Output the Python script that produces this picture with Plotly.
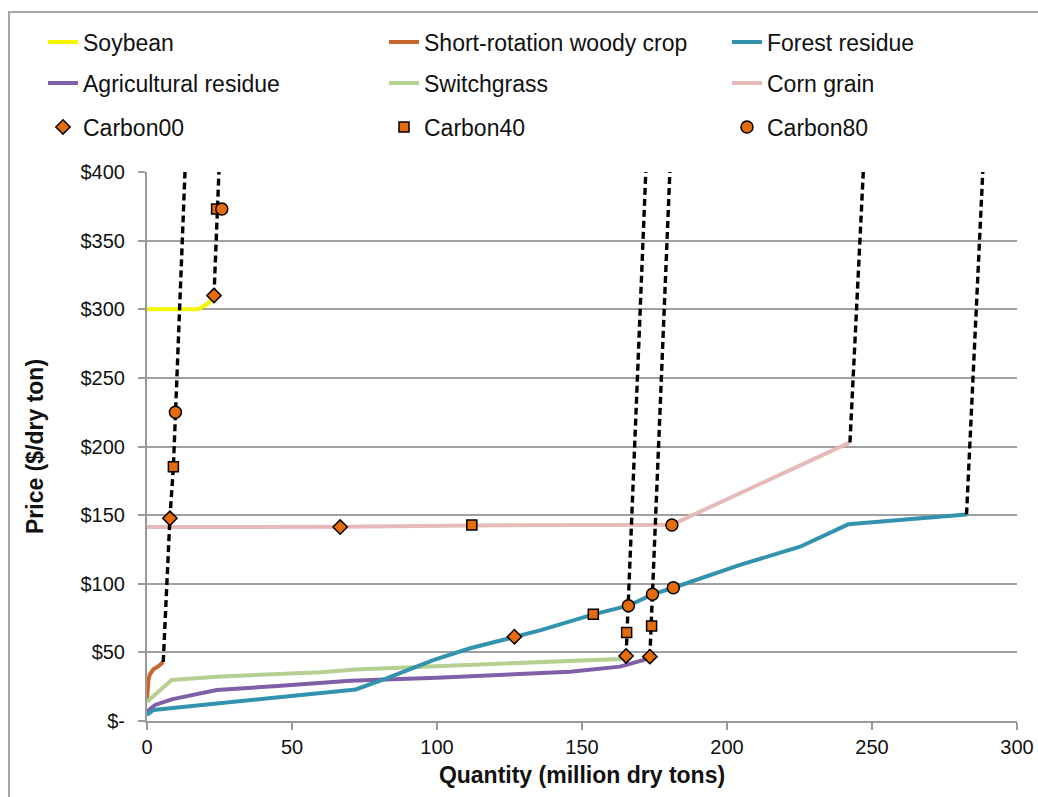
import plotly.graph_objects as go

# ---- supply curves (quantity in million dry tons, price in $/dry ton) ----
soy_x = [0, 17.7, 21, 23.1]
soy_y = [300, 300, 304, 310]

srwc_x = [0, 0.5, 1.0, 2.2, 4.0, 5.6]
srwc_y = [16, 30, 34, 37.7, 40, 43]

forest_x = [0, 2.2, 30, 60, 72, 82.6, 98.7, 111.4, 126.7, 135.5, 145.9, 153.9,
            166, 174.3, 181.5, 204.5, 225.2, 241.8, 282.6]
forest_y = [4.4, 8, 14, 20, 23, 31, 44.4, 53, 61.4, 66, 72.6, 77.7,
            84, 92.3, 97.1, 113.7, 127, 143.3, 150.5]

agres_x = [0, 2.8, 8.5, 24, 45, 70, 100, 135.5, 145.9, 163.1, 171.1, 173.4]
agres_y = [6.8, 11.7, 15.8, 22.6, 25.5, 29.4, 31.5, 35.2, 35.9, 39.6, 44.4, 46.9]

switch_x = [0, 8.5, 24, 60, 72, 146, 163, 165.2]
switch_y = [14, 29.9, 32.3, 35.5, 37.6, 43.2, 45.2, 47.0]

corn_x = [0, 66.6, 112, 181, 242.4]
corn_y = [141.3, 141.5, 142.5, 143, 203]

# ---- vertical extensions beyond each curve ----
ext_srwc_x = [5.6, 7.9, 9.1, 9.8, 13.1]
ext_srwc_y = [43, 147.7, 185.3, 225, 400]
ext_soy_x = [23.1, 24.8]
ext_soy_y = [310, 400]
ext_switch_x = [165.2, 172.0]
ext_switch_y = [47.0, 400]
ext_agres_x = [173.4, 180.3]
ext_agres_y = [46.9, 400]
ext_corn_x = [242.4, 247.0]
ext_corn_y = [203, 400]
ext_forest_x = [282.6, 288.2]
ext_forest_y = [150.5, 400]

# ---- carbon scenario equilibrium points ----
c00_x = [7.9, 23.1, 66.6, 126.7, 165.2, 173.4]
c00_y = [147.7, 310, 141.3, 61.4, 47.4, 46.9]
c40_x = [9.1, 24.0, 112, 153.9, 165.4, 174.0]
c40_y = [185.3, 373, 142.8, 77.7, 64.4, 69.2]
c80_x = [9.8, 25.8, 181, 166, 174.3, 181.5]
c80_y = [225, 373, 142.8, 84, 92.3, 97.1]

y_ticks = [0, 50, 100, 150, 200, 250, 300, 350, 400]
y_tick_text = ["$-", "$50", "$100", "$150", "$200", "$250", "$300", "$350", "$400"]
x_ticks = [0, 50, 100, 150, 200, 250, 300]

FONT = "Liberation Sans, Arial, sans-serif"
ORANGE = "#E46C0A"
LW = 4
W, H = 1038, 797

# legend slots: three columns, three rows (container pixel positions)
col_px = [43, 384, 727]
row_px = [42, 83, 127]

fig = go.Figure()

curves = [
    ("Soybean", soy_x, soy_y, "#F5F500", 0, 0),
    ("Short-rotation woody crop", srwc_x, srwc_y, "#C8662E", 0, 1),
    ("Agricultural residue", agres_x, agres_y, "#7F5FA8", 1, 0),
    ("Switchgrass", switch_x, switch_y, "#B5D090", 1, 1),
    ("Forest residue", forest_x, forest_y, "#3392AE", 0, 2),
    ("Corn grain", corn_x, corn_y, "#E6BAB9", 1, 2),
]
points = [
    ("Carbon00", c00_x, c00_y, "diamond", 11, 2, 0),
    ("Carbon40", c40_x, c40_y, "square", 10, 2, 1),
    ("Carbon80", c80_x, c80_y, "circle", 12, 2, 2),
]

legends = {}


def legend_id(row, col):
    idx = row * 3 + col + 1
    key = "legend" if idx == 1 else f"legend{idx}"
    legends[key] = dict(
        orientation="h", xref="container", yref="container",
        xanchor="left", yanchor="middle",
        x=col_px[col] / W, y=(H - row_px[row]) / H,
        font=dict(family=FONT, size=23, color="#111"),
        bgcolor="rgba(0,0,0,0)", borderwidth=0,
    )
    return key


for name, xs, ys, col, r, c in curves:
    fig.add_trace(go.Scatter(
        x=xs, y=ys, mode="lines", name=name,
        line=dict(color=col, width=LW),
        legend=legend_id(r, c),
    ))

extensions = [
    (ext_srwc_x, ext_srwc_y), (ext_soy_x, ext_soy_y),
    (ext_switch_x, ext_switch_y), (ext_agres_x, ext_agres_y),
    (ext_corn_x, ext_corn_y), (ext_forest_x, ext_forest_y),
]
for xs, ys in extensions:
    fig.add_trace(go.Scatter(
        x=xs, y=ys, mode="lines", showlegend=False, hoverinfo="skip",
        line=dict(color="black", width=3.4, dash="7px,4px"),
    ))

for name, xs, ys, sym, size, r, c in points:
    fig.add_trace(go.Scatter(
        x=xs, y=ys, mode="markers", name=name,
        marker=dict(symbol=sym, size=size, color=ORANGE,
                    line=dict(color="black", width=1.5)),
        legend=legend_id(r, c),
    ))

fig.update_layout(
    width=W, height=H,
    margin=dict(l=147, r=21, t=172, b=76),
    paper_bgcolor="white", plot_bgcolor="white",
    font=dict(family=FONT, size=20, color="#111"),
    xaxis=dict(
        range=[0, 300], tickvals=x_ticks, showgrid=False, zeroline=False,
        automargin=False,
        showline=True, linecolor="#999999", linewidth=2,
        ticks="outside", ticklen=7, tickwidth=2, tickcolor="#999999",
        tickfont=dict(family=FONT, size=20, color="#111"),
        title=dict(text="<b>Quantity (million dry tons)</b>", standoff=10,
                   font=dict(family=FONT, size=23, color="#111")),
    ),
    yaxis=dict(
        range=[0, 400], tickvals=y_ticks, ticktext=y_tick_text,
        showgrid=True, gridcolor="#A0A0A0", gridwidth=1.8, zeroline=False,
        automargin=False,
        showline=True, linecolor="#999999", linewidth=2,
        ticks="outside", ticklen=7, tickwidth=2, tickcolor="#999999",
        ticklabelstandoff=9,
        tickfont=dict(family=FONT, size=20, color="#111"),
        title=dict(text="<b>Price ($/dry ton)</b>", standoff=30,
                   font=dict(family=FONT, size=23, color="#111")),
    ),
    shapes=[dict(type="rect", xref="paper", yref="paper",
                 x0=-0.1586, x1=1.06, y0=-0.16, y1=1.2914,
                 line=dict(color="#A6A6A6", width=2), layer="below")],
    **legends,
)

fig.write_html("out.html")
